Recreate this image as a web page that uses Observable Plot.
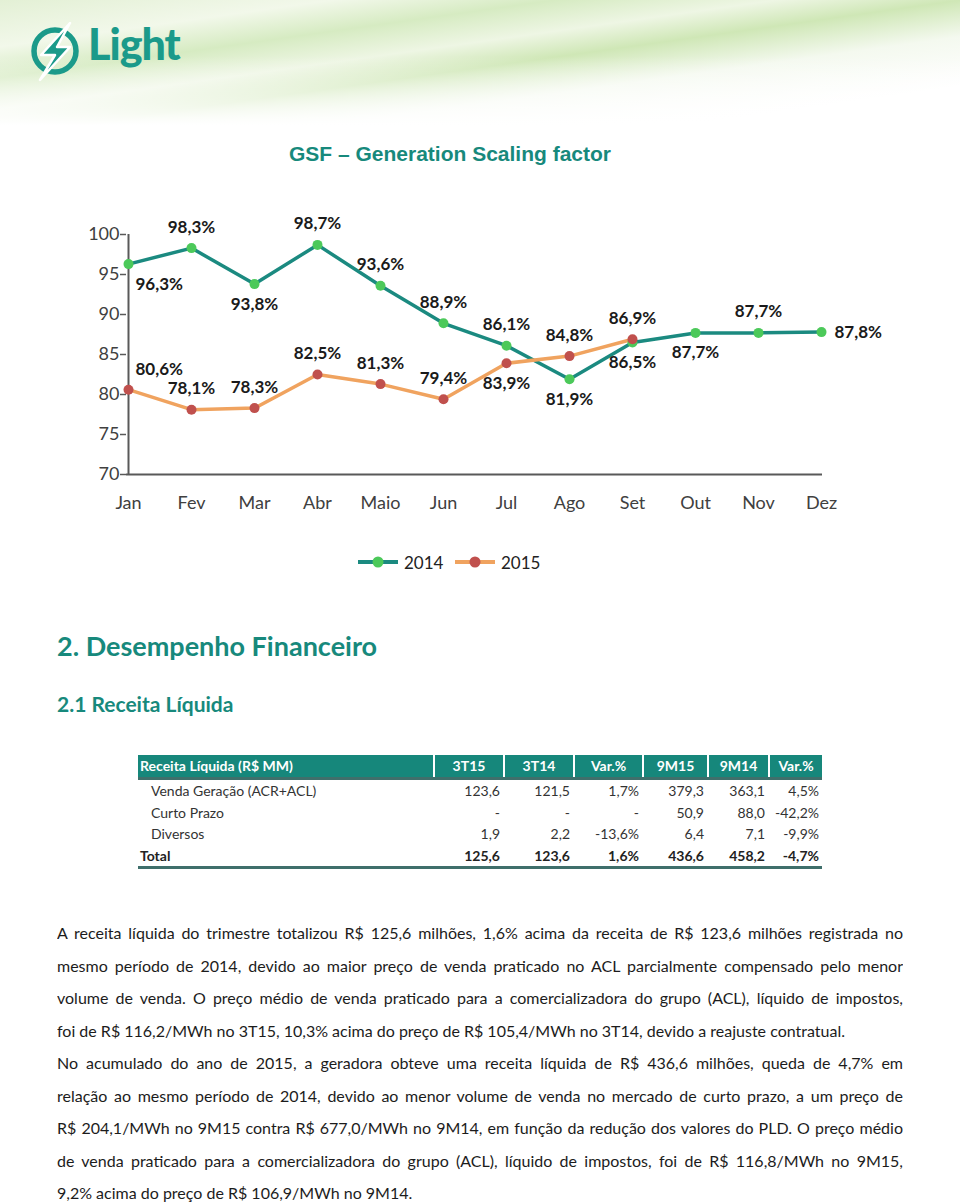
<!DOCTYPE html>
<html>
<head>
<meta charset="utf-8">
<script src="https://cdn.jsdelivr.net/npm/d3@7"></script>
<script src="https://cdn.jsdelivr.net/npm/@observablehq/plot@0.6"></script>
<style>
  html, body { margin: 0; padding: 0; background: #fff; }
  body { width: 960px; height: 1204px; position: relative; overflow: hidden; font-family: Lato, "Open Sans", sans-serif; }
  .abs { position: absolute; }
  #swoosh { left: 0; top: 0; width: 960px; height: 125px;
    background:
      linear-gradient(to bottom, rgba(255,255,255,0) 45%, #fff 100%),
      linear-gradient(172deg, #e3f0d5 0%, #f2f8ea 18%, #d6ebc2 30%, #eef6e4 42%, #cfe7b6 52%, #f4f9ef 66%, #ffffff 85%);
  }
  #logoText { left: 88px; top: 18px; font-family: Lato, sans-serif; font-weight: 900; font-size: 43px; color: #1b9a8a; letter-spacing: -1px; }
  #title { left: 0; width: 900px; top: 142px; text-align: center; font-family: "Liberation Sans", Arial, sans-serif; font-weight: bold; font-size: 21px; color: #17897c; }
  #chart { left: 0; top: 200px; }
  #legend { left: 0; top: 551px; width: 960px; height: 24px; }
  .leg { position: absolute; top: 0; font-size: 17px; color: #222; line-height: 24px; }
  h2, h3 { margin: 0; position: absolute; color: #17897c; font-weight: 700; }
  #h2 { left: 57px; top: 629px; font-size: 27px; }
  #h3 { left: 57px; top: 691px; font-size: 21px; }
  #table { left: 138px; top: 755px; width: 684px; font-size: 14px; color: #333; }
  .row { display: flex; height: 21.5px; line-height: 21.5px; }
  .row.head { height: 22px; line-height: 22px; background: #16877b; color: #fff; font-weight: 700; border-bottom: 3px solid #3f6f6b; }
  .row.total { font-weight: 700; color: #222; border-bottom: 3px solid #3f6f6b; }
  .cell { box-sizing: border-box; text-align: right; padding-right: 3px; white-space: nowrap; }
  .head .cell { text-align: center; padding-right: 0; border-left: 2px solid #fff; }
  .head .cell.lab { text-align: left; border-left: none; padding-left: 2px; }
  .cell.lab { text-align: left; padding-left: 13px; }
  .total .cell.lab { padding-left: 2px; }
  #para { left: 57px; top: 917px; width: 846px; font-size: 16px; line-height: 32.5px; color: #1c1c1c; }
  .ln { text-align: justify; text-align-last: justify; height: 32.5px; overflow: hidden; }
  .ln.last { text-align-last: left; }
</style>
</head>
<body>
<div id="swoosh" class="abs"></div>
<svg class="abs" style="left:26px;top:22px" width="60" height="60" viewBox="0 0 60 60">
  <circle cx="29" cy="29" r="21" fill="none" stroke="#1b9a8a" stroke-width="5.5"/>
  <path d="M 44 1 L 15 33 L 29 33 L 14 58 L 44 25 L 31 25 Z" fill="#1b9a8a" stroke="#fff" stroke-width="2.5" stroke-linejoin="round"/>
</svg>
<div id="logoText" class="abs">Light</div>
<div id="title" class="abs">GSF – Generation Scaling factor</div>
<div id="chart" class="abs"></div>
<div id="legend" class="abs"></div>
<h2 id="h2">2. Desempenho Financeiro</h2>
<h3 id="h3">2.1 Receita Líquida</h3>
<div id="table" class="abs"></div>
<div id="para" class="abs">
  <div class="ln">A receita líquida do trimestre totalizou R$ 125,6 milhões, 1,6% acima da receita de R$ 123,6 milhões registrada no</div>
  <div class="ln">mesmo período de 2014, devido ao maior preço de venda praticado no ACL parcialmente compensado pelo menor</div>
  <div class="ln">volume de venda. O preço médio de venda praticado para a comercializadora do grupo (ACL), líquido de impostos,</div>
  <div class="ln last">foi de R$ 116,2/MWh no 3T15, 10,3% acima do preço de R$ 105,4/MWh no 3T14, devido a reajuste contratual.</div>
  <div class="ln">No acumulado do ano de 2015, a geradora obteve uma receita líquida de R$ 436,6 milhões, queda de 4,7% em</div>
  <div class="ln">relação ao mesmo período de 2014, devido ao menor volume de venda no mercado de curto prazo, a um preço de</div>
  <div class="ln">R$ 204,1/MWh no 9M15 contra R$ 677,0/MWh no 9M14, em função da redução dos valores do PLD. O preço médio</div>
  <div class="ln">de venda praticado para a comercializadora do grupo (ACL), líquido de impostos, foi de R$ 116,8/MWh no 9M15,</div>
  <div class="ln last">9,2% acima do preço de R$ 106,9/MWh no 9M14.</div>
</div>
<script>
// ---- Chart data ----
const months = ["Jan","Fev","Mar","Abr","Maio","Jun","Jul","Ago","Set","Out","Nov","Dez"];
const gsf2014 = [96.3, 98.3, 93.8, 98.7, 93.6, 88.9, 86.1, 81.9, 86.5, 87.7, 87.7, 87.8];
const gsf2015 = [80.6, 78.1, 78.3, 82.5, 81.3, 79.4, 83.9, 84.8, 86.9];
const yTicks = [70, 75, 80, 85, 90, 95, 100];
const seriesNames = ["2014", "2015"];
// label placement (relative to the point)
const place2014 = ["below-right","above","below","above","above","above","above","below","below","below","above","right"];
const place2015 = ["above-right","above","above","above","above","above","below","above","above"];

// ---- Table data ----
const tableHeader = ["Receita Líquida (R$ MM)", "3T15", "3T14", "Var.%", "9M15", "9M14", "Var.%"];
const rowLabels = ["Venda Geração (ACR+ACL)", "Curto Prazo", "Diversos", "Total"];
const col3T15 = ["123,6", "-", "1,9", "125,6"];
const col3T14 = ["121,5", "-", "2,2", "123,6"];
const colVar3T = ["1,7%", "-", "-13,6%", "1,6%"];
const col9M15 = ["379,3", "50,9", "6,4", "436,6"];
const col9M14 = ["363,1", "88,0", "7,1", "458,2"];
const colVar9M = ["4,5%", "-42,2%", "-9,9%", "-4,7%"];

const C14 = { line: "#1b8a80", dot: "#4cc95a" };
const C15 = { line: "#f0a35f", dot: "#c0504d" };
const fmt = v => v.toFixed(1).replace(".", ",") + "%";

const d14 = gsf2014.map((v, i) => ({ month: months[i], v, place: place2014[i] }));
const d15 = gsf2015.map((v, i) => ({ month: months[i], v, place: place2015[i] }));

const offsets = {
  "above": { dx: 0, dy: -21, textAnchor: "middle" },
  "below": { dx: 0, dy: 20, textAnchor: "middle" },
  "right": { dx: 13, dy: 0, textAnchor: "start" },
  "below-right": { dx: 7, dy: 20, textAnchor: "start" },
  "above-right": { dx: 7, dy: -20, textAnchor: "start" }
};
function labels(data) {
  return Object.entries(offsets).map(([p, o]) =>
    Plot.text(data.filter(d => d.place === p), {
      x: "month", y: "v", text: d => fmt(d.v),
      dx: o.dx, dy: o.dy, textAnchor: o.textAnchor,
      fontWeight: 700, fontSize: 17, fill: "#1a1a1a"
    }));
}

const plot = Plot.plot({
  width: 960, height: 320,
  marginLeft: 126, marginRight: 138, marginTop: 34, marginBottom: 46,
  style: { fontFamily: "Lato, sans-serif", fontSize: "18px", background: "transparent" },
  x: { type: "point", domain: months, padding: 0 },
  y: { domain: [yTicks[0], yTicks[yTicks.length - 1]] },
  marks: [
    Plot.axisY({ ticks: yTicks, tickSize: 6, tickPadding: 1, label: null, fontSize: 18, stroke: "#595959", fill: "#404040", strokeWidth: 1.5 }),
    Plot.axisX({ tickSize: 0, tickPadding: 22, label: null, fontSize: 18, fill: "#404040" }),
    Plot.ruleY([yTicks[0]], { stroke: "#595959", strokeWidth: 2 }),
    Plot.ruleX([{ m: months[0], a: yTicks[0], b: yTicks[yTicks.length - 1] }], { x: "m", y1: "a", y2: "b", stroke: "#595959", strokeWidth: 2 }),
    Plot.line(d14, { x: "month", y: "v", stroke: C14.line, strokeWidth: 3.5 }),
    Plot.line(d15, { x: "month", y: "v", stroke: C15.line, strokeWidth: 3.5 }),
    Plot.dot(d14, { x: "month", y: "v", r: 5, fill: C14.dot }),
    Plot.dot(d15, { x: "month", y: "v", r: 5, fill: C15.dot }),
    ...labels(d14),
    ...labels(d15)
  ]
});
document.getElementById("chart").appendChild(plot);

// ---- Legend ----
const legend = document.getElementById("legend");
[[seriesNames[0], C14, 358], [seriesNames[1], C15, 455]].forEach(([name, c, x0]) => {
  const s = document.createElementNS("http://www.w3.org/2000/svg", "svg");
  s.setAttribute("width", 42); s.setAttribute("height", 24);
  s.style.position = "absolute"; s.style.left = x0 + "px"; s.style.top = "0px";
  s.innerHTML = `<line x1="0" x2="40" y1="11" y2="11" stroke="${c.line}" stroke-width="4"/><circle cx="20" cy="11" r="5.5" fill="${c.dot}"/>`;
  legend.appendChild(s);
  const t = document.createElement("div");
  t.className = "leg"; t.style.left = (x0 + 46) + "px"; t.textContent = name;
  legend.appendChild(t);
});

// ---- Table ----
const widths = [295, 70, 70, 69, 65, 61, 54];
const tbl = document.getElementById("table");
function addRow(cells, cls) {
  const r = document.createElement("div");
  r.className = "row " + cls;
  cells.forEach((c, i) => {
    const d = document.createElement("div");
    d.className = "cell" + (i === 0 ? " lab" : "");
    d.style.width = widths[i] + "px";
    d.textContent = c;
    r.appendChild(d);
  });
  tbl.appendChild(r);
}
addRow(tableHeader, "head");
rowLabels.forEach((lab, i) => addRow([lab, col3T15[i], col3T14[i], colVar3T[i], col9M15[i], col9M14[i], colVar9M[i]], i === rowLabels.length - 1 ? "total" : ""));

// ---- fit paragraph lines (measure un-justified) ----
document.querySelectorAll("#para .ln").forEach(el => {
  const span = document.createElement("span");
  span.style.whiteSpace = "nowrap";
  span.textContent = el.textContent;
  el.textContent = "";
  el.style.textAlign = "left";
  el.style.textAlignLast = "left";
  el.appendChild(span);
  let fs = 16;
  while (span.getBoundingClientRect().width > 844 && fs > 13) {
    fs -= 0.1;
    el.style.fontSize = fs + "px";
  }
  el.style.textAlign = "";
  el.style.textAlignLast = "";
  el.textContent = span.textContent;
});
</script>
</body>
</html>
